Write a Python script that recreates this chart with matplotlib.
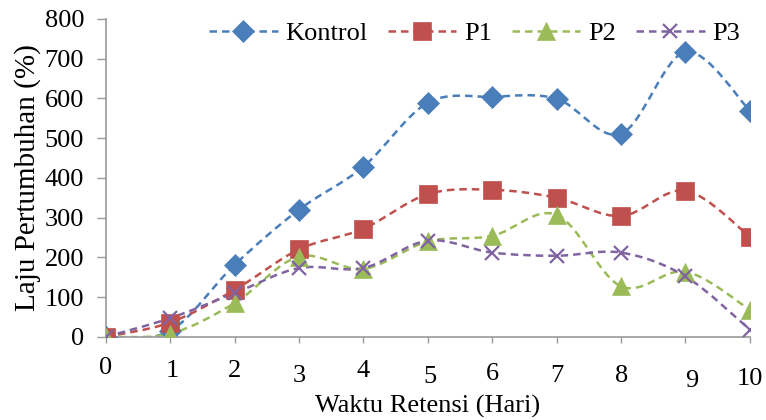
import numpy as np
import matplotlib
matplotlib.use("Agg")
import matplotlib.pyplot as plt
from matplotlib.path import Path
from matplotlib.patches import PathPatch
from matplotlib.transforms import ScaledTranslation

plt.rcParams['font.family'] = ['Liberation Serif', 'DejaVu Serif']

hari = [0, 1, 2, 3, 4, 5, 6, 7, 8, 9, 10]
kontrol = [0, 15, 181, 320, 428, 589, 604, 599, 511, 717, 569]
p1 = [0, 36, 118, 220, 272, 359, 370, 350, 304, 368, 252]
p2 = [0, 8, 85, 202, 171, 240, 254, 307, 127, 164, 68]
p3 = [0, 47, 110, 173, 173, 242, 212, 204, 212, 152, 18]

series = [
    ("Kontrol", kontrol, "#4A7EBB", "D", 11),
    ("P1", p1, "#C0504D", "s", 12.5),
    ("P2", p2, "#9BBB59", "^", 12.5),
    ("P3", p3, "#8064A2", "x", 10.5),
]

# the x tick labels in the original sit a little uneven (pixels)
lbl_drop = [0, 3, 3, 8, 3, 9, 6, 8, 8, 13, 11]
lbl_dx = [0, 2, 0, 0, 0, 2, 0, 0, 1, 6, 0]


def smooth_path(x, y):
    # excel-like smoothed line: bezier through the points
    pts = np.column_stack([x, y]).astype(float)
    n = len(pts)
    verts = [pts[0]]
    codes = [Path.MOVETO]
    for i in range(n - 1):
        p0 = pts[max(i - 1, 0)]
        pa = pts[i]
        pb = pts[i + 1]
        p3_ = pts[min(i + 2, n - 1)]
        c1 = pa + (pb - p0) / 6.0
        c2 = pb - (p3_ - pa) / 6.0
        verts += [c1, c2, pb]
        codes += [Path.CURVE4] * 3
    return Path(verts, codes)


fig = plt.figure(figsize=(7.66, 4.2), dpi=100)
ax = fig.add_axes([0.138, 0.198, 0.841, 0.757])

for name, vals, col, mk, ms in series:
    patch = PathPatch(smooth_path(hari, vals), facecolor="none", edgecolor=col,
                      lw=1.8, linestyle=(0, (3, 2)), zorder=2)
    ax.add_patch(patch)
    ax.plot(hari, vals, linestyle="none", color=col, marker=mk,
            markersize=ms, markeredgewidth=1.6 if mk == "x" else 0.5,
            markeredgecolor=col, zorder=3)

# legend handles with dashed lines
handles = []
for name, vals, col, mk, ms in series:
    h, = ax.plot([], [], linestyle=(0, (3, 2)), lw=1.8, color=col, marker=mk,
                 markersize=ms, markeredgewidth=1.6 if mk == "x" else 0.5,
                 markeredgecolor=col, label=name)
    handles.append(h)
ax.legend(handles=handles, loc="center right", bbox_to_anchor=(0.985, 0.955), ncol=4,
          frameon=False, fontsize=19, handlelength=2.6, handletextpad=0.3,
          columnspacing=0.75, borderaxespad=0, borderpad=0)

ax.set_xlim(0, 10)
ax.set_ylim(0, 800)
ax.set_xticks(hari)
ax.set_yticks(range(0, 801, 100))
ax.tick_params(color="#999999", width=1, labelsize=19)
ax.tick_params(axis="y", length=6.5, pad=9)
ax.tick_params(axis="x", length=4.5, pad=10)
for s in ["top", "right"]:
    ax.spines[s].set_visible(False)
for s in ["left", "bottom"]:
    ax.spines[s].set_color("#999999")
    ax.spines[s].set_linewidth(1.2)
ax.set_xlabel("Waktu Retensi (Hari)", fontsize=19)
ax.xaxis.set_label_coords(0.5, -0.182)
ax.set_ylabel("Laju Pertumbuhan (%)", fontsize=21)
ax.yaxis.set_label_coords(-0.1, 0.5)

for lab, d, dx in zip(ax.get_xticklabels(), lbl_drop, lbl_dx):
    lab.set_transform(lab.get_transform() + ScaledTranslation(dx / 100, -d / 100, fig.dpi_scale_trans))

fig.savefig("out.png", dpi=100)
